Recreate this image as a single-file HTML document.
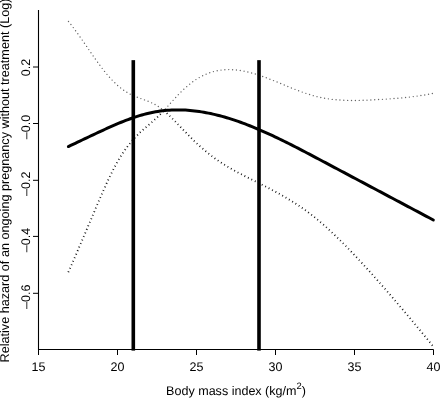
<!DOCTYPE html>
<html><head><meta charset="utf-8"><title>Relative hazard vs BMI</title><style>html,body{margin:0;padding:0;background:#fff;}svg{display:block;}</style></head>
<body><svg width="440" height="398" viewBox="0 0 440 398">
<rect width="440" height="398" fill="#fff"/>
<path d="M38.5,10 L38.5,349.5 L433.5,349.5" fill="none" stroke="#000" stroke-width="1.1"/>
<line x1="33" y1="67.0" x2="38.5" y2="67.0" stroke="#000" stroke-width="1"/>
<line x1="33" y1="123.5" x2="38.5" y2="123.5" stroke="#000" stroke-width="1"/>
<line x1="33" y1="180.3" x2="38.5" y2="180.3" stroke="#000" stroke-width="1"/>
<line x1="33" y1="236.4" x2="38.5" y2="236.4" stroke="#000" stroke-width="1"/>
<line x1="33" y1="293.3" x2="38.5" y2="293.3" stroke="#000" stroke-width="1"/>
<line x1="38.5" y1="349.5" x2="38.5" y2="355" stroke="#000" stroke-width="1"/>
<line x1="117.5" y1="349.5" x2="117.5" y2="355" stroke="#000" stroke-width="1"/>
<line x1="196.5" y1="349.5" x2="196.5" y2="355" stroke="#000" stroke-width="1"/>
<line x1="275.5" y1="349.5" x2="275.5" y2="355" stroke="#000" stroke-width="1"/>
<line x1="354.5" y1="349.5" x2="354.5" y2="355" stroke="#000" stroke-width="1"/>
<line x1="433.5" y1="349.5" x2="433.5" y2="355" stroke="#000" stroke-width="1"/>
<g font-family='"Liberation Sans", Arial, Helvetica, sans-serif' font-size="12.5" fill="#000" text-rendering="geometricPrecision">
<text transform="translate(29.9,67.45) rotate(-90)" text-anchor="middle">0.2</text>
<text transform="translate(29.9,127.00) rotate(-90)" text-anchor="middle">–0.0</text>
<text transform="translate(29.9,183.80) rotate(-90)" text-anchor="middle">–0.2</text>
<text transform="translate(29.9,240.00) rotate(-90)" text-anchor="middle">–0.4</text>
<text transform="translate(29.9,296.80) rotate(-90)" text-anchor="middle">–0.6</text>
<text x="38.5" y="370.6" text-anchor="middle">15</text>
<text x="117.5" y="370.6" text-anchor="middle">20</text>
<text x="196.5" y="370.6" text-anchor="middle">25</text>
<text x="275.5" y="370.6" text-anchor="middle">30</text>
<text x="354.5" y="370.6" text-anchor="middle">35</text>
<text x="433.5" y="370.6" text-anchor="middle">40</text>
<text x="236" y="394.8" text-anchor="middle" font-size="12.55">Body mass index (kg/m<tspan dy="-5.6" font-size="9.4">2</tspan><tspan dy="5.6">)</tspan></text>
<text transform="translate(9,180.5) rotate(-90)" text-anchor="middle" font-size="12.65">Relative hazard of an ongoing pregnancy without treatment (Log)</text>
</g>
<path d="M68.12,21.11 68.77,21.89 69.41,22.68 70.05,23.46 70.68,24.26 71.31,25.05 71.93,25.85 72.55,26.66 73.17,27.46 73.78,28.27 74.39,29.08 75.00,29.90 75.60,30.71 76.20,31.53 76.80,32.35 77.39,33.18 77.98,34.00 78.57,34.83 79.16,35.65 79.74,36.48 80.33,37.31 80.91,38.14 81.49,38.98 82.07,39.81 82.65,40.64 83.22,41.48 83.80,42.31 84.37,43.15 84.95,43.99 85.52,44.82 86.09,45.66 86.67,46.50 87.24,47.33 87.81,48.17 88.39,49.01 88.96,49.85 89.53,50.68 90.11,51.52 90.68,52.36 91.26,53.19 91.83,54.03 92.41,54.86 92.99,55.70 93.57,56.53 94.15,57.36 94.73,58.19 95.32,59.02 95.90,59.85 96.49,60.67 97.08,61.50 97.68,62.32 98.27,63.14 98.87,63.96 99.47,64.78 100.07,65.60 100.68,66.41 101.29,67.22 101.91,68.03 102.52,68.83 103.15,69.63 103.77,70.43 104.40,71.23 105.04,72.02 105.68,72.80 106.33,73.59 106.98,74.36 107.63,75.14 108.30,75.91 108.97,76.67 109.64,77.43 110.32,78.18 111.01,78.93 111.70,79.67 112.40,80.40 113.11,81.13 113.82,81.85 114.55,82.56 115.28,83.27 116.01,83.96 116.76,84.65 117.51,85.33 118.27,86.00 119.04,86.66 119.82,87.31 120.61,87.95 121.41,88.58 122.22,89.19 123.03,89.79 123.86,90.38 124.70,90.95 125.55,91.51 126.41,92.05 127.28,92.57 128.16,93.07 129.05,93.56 129.95,94.03 130.85,94.48 131.77,94.92 132.69,95.35 133.62,95.76 134.55,96.15 135.49,96.54 136.43,96.92 137.38,97.28 138.33,97.64 139.28,98.00 140.23,98.35 141.18,98.70 142.14,99.04 143.09,99.39 144.04,99.74 144.99,100.09 145.94,100.45 146.89,100.82 147.83,101.20 148.77,101.58 149.70,101.98 150.63,102.39 151.56,102.81 152.47,103.24 153.38,103.70 154.28,104.16 155.17,104.65 156.05,105.15 156.92,105.67 157.78,106.21 158.63,106.77 159.47,107.34 160.30,107.93 161.11,108.53 161.92,109.14 162.72,109.77 163.51,110.41" fill="none" stroke="#666" stroke-width="1.4" stroke-linecap="round" stroke-dasharray="0 3.8445" stroke-dashoffset="3.2445"/>
<path d="M163.50,110.90 164.18,110.17 164.86,109.43 165.54,108.69 166.22,107.94 166.89,107.20 167.56,106.45 168.24,105.70 168.91,104.96 169.58,104.21 170.25,103.46 170.92,102.71 171.59,101.96 172.26,101.22 172.94,100.47 173.61,99.72 174.29,98.98 174.97,98.24 175.65,97.50 176.33,96.76 177.02,96.03 177.71,95.30 178.40,94.57 179.10,93.84 179.80,93.13 180.50,92.41 181.22,91.70 181.93,91.00 182.66,90.30 183.39,89.61 184.12,88.92 184.87,88.25 185.61,87.58 186.37,86.91 187.13,86.25 187.90,85.61 188.67,84.96 189.45,84.33 190.24,83.71 191.03,83.09 191.84,82.49 192.64,81.89 193.46,81.30 194.28,80.73 195.11,80.16 195.95,79.60 196.80,79.06 197.65,78.53 198.51,78.01 199.37,77.50 200.25,77.00 201.13,76.52 202.02,76.05 202.92,75.60 203.82,75.16 204.74,74.74 205.65,74.33 206.58,73.94 207.51,73.56 208.45,73.20 209.39,72.86 210.34,72.53 211.30,72.22 212.26,71.93 213.23,71.66 214.20,71.40 215.18,71.16 216.16,70.93 217.14,70.73 218.13,70.54 219.12,70.36 220.11,70.21 221.11,70.07 222.10,69.95 223.10,69.85 224.10,69.76 225.11,69.70 226.11,69.64 227.12,69.61 228.12,69.59 229.12,69.58 230.13,69.59 231.13,69.62 232.14,69.66 233.14,69.71 234.15,69.78 235.15,69.86 236.15,69.96 237.15,70.07 238.14,70.19 239.14,70.33 240.13,70.47 241.13,70.63 242.12,70.80 243.11,70.98 244.09,71.17 245.08,71.38 246.06,71.59 247.04,71.81 248.02,72.04 248.99,72.28 249.97,72.53 250.94,72.78 251.91,73.05 252.88,73.32 253.84,73.60 254.81,73.88 255.77,74.18 256.73,74.48 257.68,74.78 258.64,75.09 259.59,75.41 260.55,75.74 261.50,76.06 262.44,76.40 263.39,76.73 264.34,77.08 265.28,77.42 266.22,77.77 267.16,78.12 268.10,78.48 269.04,78.84 269.98,79.21 270.91,79.57 271.85,79.94 272.78,80.31 273.72,80.68 274.65,81.06 275.58,81.44 276.51,81.81 277.44,82.19 278.37,82.58 279.30,82.96 280.23,83.34 281.16,83.72 282.09,84.11 283.02,84.49 283.95,84.87 284.88,85.26 285.81,85.64 286.74,86.02 287.66,86.40 288.60,86.78 289.53,87.16 290.46,87.54 291.39,87.92 292.32,88.29 293.26,88.66 294.19,89.04 295.13,89.40 296.06,89.77 297.00,90.13 297.94,90.49 298.88,90.85 299.82,91.20 300.76,91.55 301.71,91.89 302.65,92.23 303.60,92.57 304.55,92.90 305.50,93.23 306.45,93.55 307.40,93.86 308.36,94.17 309.32,94.48 310.28,94.77 311.24,95.07 312.20,95.35 313.17,95.63 314.14,95.90 315.11,96.16 316.08,96.41 317.06,96.66 318.03,96.89 319.01,97.12 319.99,97.34 320.98,97.55 321.96,97.75 322.95,97.95 323.93,98.13 324.92,98.31 325.91,98.48 326.91,98.64 327.90,98.80 328.89,98.94 329.89,99.08 330.89,99.21 331.88,99.34 332.88,99.45 333.88,99.56 334.88,99.66 335.88,99.76 336.88,99.85 337.88,99.93 338.89,100.00 339.89,100.07 340.89,100.14 341.90,100.19 342.90,100.25 343.90,100.29 344.91,100.33 345.91,100.37 346.92,100.39 347.92,100.42 348.93,100.44 349.93,100.45 350.94,100.46 351.94,100.47 352.95,100.47 353.95,100.47 354.96,100.46 355.96,100.45 356.97,100.44 357.97,100.42 358.98,100.40 359.98,100.37 360.99,100.35 361.99,100.32 363.00,100.28 364.00,100.25 365.00,100.21 366.01,100.17 367.01,100.13 368.02,100.08 369.02,100.04 370.02,99.99 371.03,99.94 372.03,99.89 373.04,99.84 374.04,99.79 375.04,99.74 376.05,99.69 377.05,99.63 378.05,99.58 379.06,99.52 380.06,99.46 381.06,99.41 382.07,99.35 383.07,99.29 384.07,99.23 385.08,99.16 386.08,99.10 387.08,99.04 388.09,98.97 389.09,98.90 390.09,98.83 391.09,98.76 392.10,98.69 393.10,98.61 394.10,98.53 395.10,98.46 396.11,98.37 397.11,98.29 398.11,98.21 399.11,98.12 400.11,98.03 401.11,97.94 402.11,97.84 403.11,97.75 404.11,97.65 405.11,97.55 406.11,97.44 407.11,97.34 408.11,97.23 409.11,97.11 410.11,97.00 411.11,96.88 412.10,96.76 413.10,96.63 414.10,96.51 415.09,96.38 416.09,96.24 417.09,96.10 418.08,95.96 419.08,95.82 420.07,95.67 421.06,95.52 422.06,95.37 423.05,95.21 424.04,95.05 425.03,94.88 426.02,94.72 427.01,94.54 428.00,94.37 428.99,94.18 429.98,94.00 430.97,93.81 431.95,93.62 432.94,93.42" fill="none" stroke="#666" stroke-width="1.4" stroke-linecap="round" stroke-dasharray="0 3.8675" stroke-dashoffset="1.2112"/>
<path d="M68.28,272.39 68.68,271.46 69.08,270.54 69.48,269.62 69.89,268.70 70.29,267.78 70.69,266.85 71.09,265.93 71.49,265.01 71.89,264.09 72.29,263.16 72.69,262.24 73.09,261.32 73.49,260.39 73.89,259.47 74.29,258.55 74.69,257.62 75.08,256.70 75.48,255.78 75.88,254.85 76.28,253.93 76.68,253.00 77.07,252.08 77.47,251.16 77.87,250.23 78.27,249.31 78.66,248.38 79.06,247.46 79.46,246.53 79.85,245.61 80.25,244.68 80.64,243.76 81.04,242.84 81.44,241.91 81.83,240.99 82.23,240.06 82.62,239.14 83.02,238.21 83.41,237.29 83.81,236.36 84.20,235.43 84.60,234.51 84.99,233.58 85.38,232.66 85.78,231.73 86.17,230.81 86.57,229.88 86.96,228.96 87.35,228.03 87.75,227.11 88.14,226.18 88.53,225.25 88.93,224.33 89.32,223.40 89.71,222.48 90.11,221.55 90.50,220.62 90.89,219.70 91.29,218.77 91.68,217.85 92.07,216.92 92.47,215.99 92.86,215.07 93.25,214.14 93.64,213.22 94.04,212.29 94.43,211.36 94.82,210.44 95.21,209.51 95.61,208.59 96.00,207.66 96.39,206.73 96.79,205.81 97.18,204.88 97.58,203.96 97.97,203.03 98.37,202.11 98.77,201.18 99.16,200.26 99.56,199.34 99.96,198.41 100.36,197.49 100.76,196.57 101.16,195.64 101.56,194.72 101.96,193.80 102.37,192.88 102.77,191.96 103.18,191.04 103.59,190.12 104.00,189.20 104.41,188.28 104.82,187.36 105.23,186.45 105.65,185.53 106.06,184.61 106.48,183.70 106.90,182.79 107.33,181.87 107.75,180.96 108.18,180.05 108.60,179.14 109.03,178.23 109.47,177.32 109.90,176.41 110.34,175.51 110.78,174.60 111.22,173.70 111.67,172.80 112.12,171.90 112.57,171.00 113.03,170.10 113.49,169.21 113.95,168.32 114.42,167.43 114.89,166.54 115.36,165.65 115.84,164.77 116.32,163.88 116.81,163.00 117.31,162.13 117.80,161.25 118.31,160.38 118.82,159.52 119.33,158.65 119.85,157.79 120.38,156.93 120.91,156.08 121.44,155.23 121.99,154.38 122.54,153.54 123.09,152.70 123.65,151.86 124.22,151.03 124.79,150.20 125.37,149.38 125.96,148.56 126.55,147.75 127.15,146.94 127.75,146.14 128.36,145.34 128.98,144.55 129.61,143.76 130.24,142.98 130.88,142.20 131.53,141.43 132.18,140.67 132.84,139.91 133.51,139.16 134.19,138.41 134.87,137.67 135.56,136.94 136.25,136.21 136.96,135.49 137.67,134.78 138.38,134.08 139.11,133.38 139.84,132.68 140.57,132.00 141.31,131.32 142.06,130.64 142.81,129.97 143.56,129.30 144.32,128.64 145.08,127.98 145.84,127.32 146.60,126.67 147.37,126.01 148.13,125.36 148.90,124.71 149.66,124.06 150.42,123.40 151.19,122.74 151.95,122.09 152.70,121.42 153.46,120.76 154.21,120.09 154.96,119.41 155.70,118.74 156.43,118.05 157.17,117.36 157.89,116.66 158.61,115.96 159.32,115.25 160.03,114.54 160.73,113.82 161.43,113.09 162.13,112.36 162.82,111.63 163.50,110.90" fill="none" stroke="#111" stroke-width="1.8" stroke-linecap="butt" stroke-dasharray="0.9 2.9520" stroke-dashoffset="3.7020"/>
<path d="M163.50,110.40 164.27,111.05 165.03,111.70 165.79,112.36 166.54,113.02 167.28,113.69 168.02,114.37 168.75,115.06 169.48,115.75 170.21,116.44 170.92,117.14 171.64,117.85 172.35,118.56 173.06,119.27 173.76,119.98 174.47,120.70 175.17,121.41 175.86,122.13 176.56,122.86 177.26,123.58 177.95,124.30 178.64,125.03 179.34,125.75 180.03,126.48 180.72,127.21 181.41,127.93 182.10,128.66 182.80,129.38 183.49,130.11 184.19,130.83 184.88,131.55 185.58,132.27 186.28,132.99 186.98,133.71 187.69,134.43 188.39,135.14 189.10,135.85 189.80,136.56 190.51,137.27 191.22,137.98 191.94,138.68 192.65,139.39 193.37,140.09 194.09,140.79 194.82,141.48 195.54,142.17 196.27,142.86 197.00,143.55 197.73,144.24 198.47,144.92 199.21,145.60 199.95,146.27 200.70,146.94 201.44,147.61 202.20,148.27 202.95,148.93 203.71,149.59 204.47,150.24 205.24,150.89 206.01,151.53 206.79,152.17 207.56,152.80 208.35,153.43 209.13,154.05 209.92,154.67 210.72,155.28 211.52,155.89 212.32,156.49 213.12,157.09 213.93,157.68 214.75,158.27 215.56,158.85 216.38,159.43 217.21,160.00 218.03,160.57 218.86,161.14 219.69,161.69 220.53,162.25 221.37,162.80 222.21,163.34 223.06,163.88 223.91,164.42 224.76,164.95 225.61,165.48 226.47,166.00 227.33,166.52 228.19,167.03 229.05,167.54 229.92,168.05 230.79,168.55 231.66,169.05 232.53,169.54 233.40,170.03 234.28,170.52 235.16,171.01 236.04,171.49 236.92,171.97 237.80,172.44 238.69,172.92 239.57,173.39 240.46,173.85 241.35,174.32 242.24,174.78 243.13,175.24 244.02,175.70 244.92,176.16 245.81,176.61 246.71,177.07 247.60,177.52 248.50,177.97 249.39,178.42 250.29,178.87 251.19,179.32 252.08,179.77 252.98,180.22 253.88,180.67 254.78,181.11 255.67,181.56 256.57,182.01 257.47,182.46 258.36,182.91 259.26,183.36 260.16,183.81 261.05,184.26 261.95,184.72 262.84,185.17 263.74,185.62 264.63,186.08 265.52,186.54 266.41,187.00 267.31,187.46 268.20,187.92 269.09,188.38 269.98,188.84 270.86,189.31 271.75,189.78 272.64,190.25 273.52,190.72 274.41,191.19 275.29,191.67 276.17,192.15 277.05,192.63 277.93,193.11 278.81,193.59 279.69,194.08 280.56,194.57 281.44,195.06 282.31,195.56 283.18,196.06 284.05,196.56 284.92,197.06 285.78,197.57 286.65,198.07 287.51,198.59 288.37,199.10 289.23,199.62 290.09,200.14 290.94,200.67 291.80,201.19 292.65,201.73 293.50,202.26 294.34,202.80 295.19,203.34 296.03,203.88 296.87,204.43 297.71,204.98 298.55,205.54 299.38,206.09 300.21,206.66 301.04,207.22 301.86,207.79 302.69,208.36 303.51,208.94 304.33,209.52 305.14,210.10 305.96,210.69 306.77,211.28 307.58,211.87 308.38,212.47 309.18,213.07 309.98,213.68 310.78,214.29 311.58,214.90 312.37,215.52 313.16,216.14 313.94,216.76 314.73,217.39 315.51,218.02 316.28,218.65 317.06,219.29 317.83,219.93 318.60,220.57 319.37,221.21 320.14,221.86 320.90,222.51 321.66,223.17 322.42,223.82 323.17,224.48 323.93,225.15 324.68,225.81 325.43,226.48 326.18,227.14 326.92,227.82 327.67,228.49 328.41,229.17 329.15,229.84 329.88,230.52 330.62,231.21 331.35,231.89 332.09,232.58 332.82,233.26 333.54,233.95 334.27,234.64 335.00,235.34 335.72,236.03 336.44,236.73 337.16,237.43 337.88,238.13 338.60,238.83 339.31,239.53 340.03,240.24 340.74,240.94 341.45,241.65 342.16,242.36 342.87,243.07 343.58,243.78 344.28,244.49 344.99,245.21 345.69,245.92 346.39,246.64 347.09,247.36 347.79,248.08 348.49,248.80 349.19,249.52 349.88,250.24 350.58,250.96 351.27,251.69 351.97,252.41 352.66,253.14 353.35,253.87 354.04,254.59 354.73,255.32 355.42,256.05 356.10,256.78 356.79,257.51 357.48,258.25 358.16,258.98 358.85,259.71 359.53,260.45 360.21,261.18 360.89,261.92 361.57,262.66 362.25,263.39 362.93,264.13 363.61,264.87 364.29,265.61 364.96,266.35 365.64,267.09 366.32,267.84 366.99,268.58 367.66,269.32 368.34,270.07 369.01,270.81 369.68,271.55 370.35,272.30 371.02,273.05 371.69,273.79 372.36,274.54 373.03,275.29 373.70,276.04 374.36,276.79 375.03,277.54 375.70,278.29 376.36,279.04 377.03,279.79 377.69,280.54 378.35,281.29 379.02,282.05 379.68,282.80 380.34,283.55 381.00,284.31 381.66,285.06 382.32,285.82 382.98,286.57 383.64,287.33 384.30,288.09 384.96,288.84 385.62,289.60 386.27,290.36 386.93,291.12 387.59,291.87 388.24,292.63 388.90,293.39 389.56,294.15 390.21,294.91 390.86,295.67 391.52,296.43 392.17,297.19 392.83,297.96 393.48,298.72 394.13,299.48 394.78,300.24 395.43,301.00 396.09,301.77 396.74,302.53 397.39,303.29 398.04,304.06 398.69,304.82 399.34,305.58 399.99,306.35 400.64,307.11 401.29,307.88 401.93,308.64 402.58,309.41 403.23,310.18 403.88,310.94 404.52,311.71 405.17,312.48 405.82,313.24 406.46,314.01 407.11,314.78 407.75,315.55 408.40,316.32 409.04,317.08 409.69,317.85 410.33,318.62 410.97,319.39 411.62,320.16 412.26,320.93 412.90,321.70 413.54,322.47 414.19,323.25 414.83,324.02 415.47,324.79 416.11,325.56 416.75,326.33 417.39,327.11 418.03,327.88 418.66,328.65 419.30,329.43 419.94,330.20 420.58,330.98 421.22,331.75 421.85,332.53 422.49,333.30 423.13,334.08 423.76,334.85 424.40,335.63 425.03,336.41 425.67,337.18 426.30,337.96 426.93,338.74 427.57,339.52 428.20,340.29 428.83,341.07 429.46,341.85 430.10,342.63 430.73,343.41 431.36,344.19 431.99,344.97 432.62,345.75" fill="none" stroke="#111" stroke-width="1.8" stroke-linecap="butt" stroke-dasharray="0.9 2.9675" stroke-dashoffset="3.4721"/>
<path d="M68.40,146.53 70.69,145.44 72.99,144.35 75.28,143.27 77.58,142.18 79.87,141.10 82.17,140.01 84.46,138.93 86.76,137.84 89.05,136.75 91.35,135.67 93.64,134.58 95.94,133.50 98.23,132.42 100.53,131.35 102.82,130.29 105.12,129.24 107.41,128.19 109.71,127.16 112.00,126.15 114.30,125.15 116.59,124.16 118.89,123.20 121.18,122.26 123.48,121.34 125.77,120.45 128.07,119.58 130.36,118.74 132.66,117.93 134.95,117.15 137.25,116.40 139.54,115.69 141.84,115.01 144.13,114.38 146.43,113.78 148.72,113.22 151.02,112.71 153.31,112.24 155.61,111.81 157.90,111.43 160.20,111.09 162.49,110.80 164.79,110.55 167.08,110.34 169.38,110.18 171.67,110.05 173.97,109.97 176.26,109.92 178.56,109.91 180.85,109.95 183.15,110.02 185.44,110.12 187.74,110.27 190.03,110.45 192.33,110.66 194.62,110.91 196.92,111.20 199.21,111.51 201.51,111.86 203.80,112.25 206.10,112.66 208.39,113.11 210.69,113.58 212.98,114.09 215.28,114.62 217.57,115.19 219.87,115.78 222.16,116.40 224.46,117.05 226.75,117.72 229.05,118.42 231.34,119.14 233.64,119.89 235.93,120.66 238.23,121.45 240.52,122.27 242.82,123.11 245.11,123.97 247.41,124.85 249.70,125.75 252.00,126.67 254.29,127.61 256.59,128.56 258.88,129.54 261.18,130.53 263.47,131.54 265.77,132.56 268.06,133.60 270.36,134.65 272.65,135.72 274.95,136.80 277.24,137.90 279.54,139.00 281.83,140.12 284.13,141.25 286.42,142.38 288.72,143.53 291.01,144.69 293.31,145.85 295.60,147.03 297.90,148.20 300.19,149.39 302.49,150.58 304.78,151.78 307.08,152.98 309.37,154.19 311.67,155.40 313.96,156.61 316.26,157.83 318.55,159.05 320.85,160.26 323.14,161.48 325.44,162.70 327.73,163.92 330.03,165.14 332.32,166.35 334.62,167.57 336.91,168.79 339.21,170.01 341.50,171.23 343.80,172.45 346.09,173.66 348.39,174.88 350.68,176.10 352.98,177.32 355.27,178.54 357.57,179.76 359.86,180.97 362.16,182.19 364.45,183.41 366.75,184.63 369.04,185.85 371.34,187.06 373.63,188.28 375.93,189.50 378.22,190.72 380.52,191.94 382.81,193.16 385.11,194.37 387.40,195.59 389.70,196.81 391.99,198.03 394.29,199.25 396.58,200.47 398.88,201.68 401.17,202.90 403.47,204.12 405.76,205.34 408.06,206.56 410.35,207.78 412.65,208.99 414.94,210.21 417.24,211.43 419.53,212.65 421.83,213.87 424.12,215.08 426.42,216.30 428.71,217.52 431.01,218.74 433.30,219.96" fill="none" stroke="#000" stroke-width="3.0" stroke-linecap="round" stroke-linejoin="round"/>
<rect x="131.50" y="60.15" width="3.6" height="290.45" fill="#000"/>
<rect x="257.20" y="60.15" width="3.6" height="290.45" fill="#000"/>
</svg></body></html>
